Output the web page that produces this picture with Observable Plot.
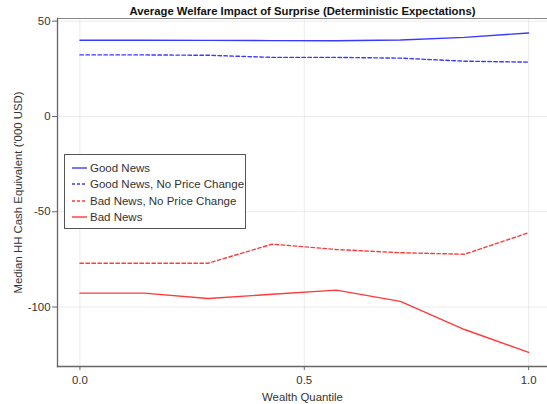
<!DOCTYPE html>
<html><head><meta charset="utf-8">
<script src="https://cdn.jsdelivr.net/npm/d3@7"></script>
<script src="https://cdn.jsdelivr.net/npm/@observablehq/plot@0.6"></script>
<style>
body{margin:0;background:#fff;font-family:"Liberation Sans",Arial,Helvetica,sans-serif;}
#wrap{position:relative;width:547px;height:404px;overflow:hidden;}
#legend{position:absolute;left:64px;top:154px;width:182px;height:75px;border:1px solid #555;background:#fff;box-sizing:border-box;font-size:11.5px;color:#333;padding-top:5px;}
#legend .row{display:flex;align-items:center;height:16.3px;white-space:nowrap;}
#legend svg{margin-left:7px;margin-right:3px;flex:none;}
</style>
</head><body>
<div id="wrap"></div>
<script>
const quantiles = [0, 0.1429, 0.2857, 0.4286, 0.5714, 0.7143, 0.8571, 1.0];
const goodNews = [40.0, 40.0, 39.9, 39.8, 39.7, 40.1, 41.5, 43.8];
const goodNewsNoPrice = [32.3, 32.3, 32.1, 31.0, 31.0, 30.6, 29.0, 28.5];
const badNewsNoPrice = [-77.0, -77.0, -77.0, -67.0, -69.8, -71.5, -72.3, -61.0];
const badNews = [-92.7, -92.7, -95.5, -93.3, -91.1, -97.0, -111.8, -123.8];
const xTicks = [0, 0.5, 1.0];
const yTicks = [-100, -50, 0, 50];
const seriesNames = ["Good News", "Good News, No Price Change", "Bad News, No Price Change", "Bad News"];
const seriesColors = ["#3a3aff", "#3a3aff", "#ff3a3a", "#ff3a3a"];
const seriesDash = [null, "3.5,2.5", "3.5,2.5", null];
const seriesValues = [goodNews, goodNewsNoPrice, badNewsNoPrice, badNews];
const titleText = "Average Welfare Impact of Surprise (Deterministic Expectations)";
const xLabel = "Wealth Quantile";
const yLabel = "Median HH Cash Equivalent ('000 USD)";

const font = '"Liberation Sans", Arial, Helvetica, sans-serif';
const lineMarks = seriesValues.map((vals, i) =>
  Plot.line(quantiles.map((q, j) => ({q, v: vals[j]})), {
    x: "q", y: "v", stroke: seriesColors[i], strokeWidth: 1.4,
    strokeDasharray: seriesDash[i] || undefined
  })
);

const chart = Plot.plot({
  width: 547, height: 404,
  marginLeft: 57, marginRight: 0, marginTop: 18, marginBottom: 38,
  style: {fontFamily: font, fontSize: "11.4px", color: "#333", background: "#fff"},
  x: {domain: [-0.05, 1.042]},
  y: {domain: [-131.2, 51.4]},
  marks: [
    Plot.gridX(xTicks, {stroke: "#000", strokeOpacity: 0.08}),
    Plot.gridY(yTicks, {stroke: "#000", strokeOpacity: 0.08}),
    Plot.frame({anchor: "top", stroke: "#888"}),
    Plot.frame({anchor: "left", stroke: "#666", strokeWidth: 1.3}),
    Plot.frame({anchor: "bottom", stroke: "#666", strokeWidth: 1.3}),
    Plot.axisX({ticks: xTicks, tickFormat: d3.format(".1f"), tickSize: 4, tickPadding: 5,
      label: xLabel, labelAnchor: "center", labelArrow: "none", labelOffset: 34, stroke: "#666"}),
    Plot.axisY({ticks: yTicks, tickFormat: d => String(d), tickSize: 5, tickPadding: 2,
      label: yLabel, labelAnchor: "center", labelArrow: "none", labelOffset: 44, stroke: "#666"}),
    ...lineMarks,
    Plot.text([titleText], {frameAnchor: "top", dy: -12, fontWeight: "bold", fontSize: 11.3, fill: "#111"})
  ]
});
const wrap = document.getElementById("wrap");
wrap.appendChild(chart);

const legend = document.createElement("div");
legend.id = "legend";
seriesNames.forEach((name, i) => {
  const row = document.createElement("div");
  row.className = "row";
  row.innerHTML = `<svg width="15" height="4"><line x1="0" x2="15" y1="2" y2="2" stroke="${seriesColors[i]}" stroke-width="1.4" ${seriesDash[i] ? `stroke-dasharray="3,2"` : ""}/></svg><span>${name}</span>`;
  legend.appendChild(row);
});
wrap.appendChild(legend);
</script>
</body></html>
